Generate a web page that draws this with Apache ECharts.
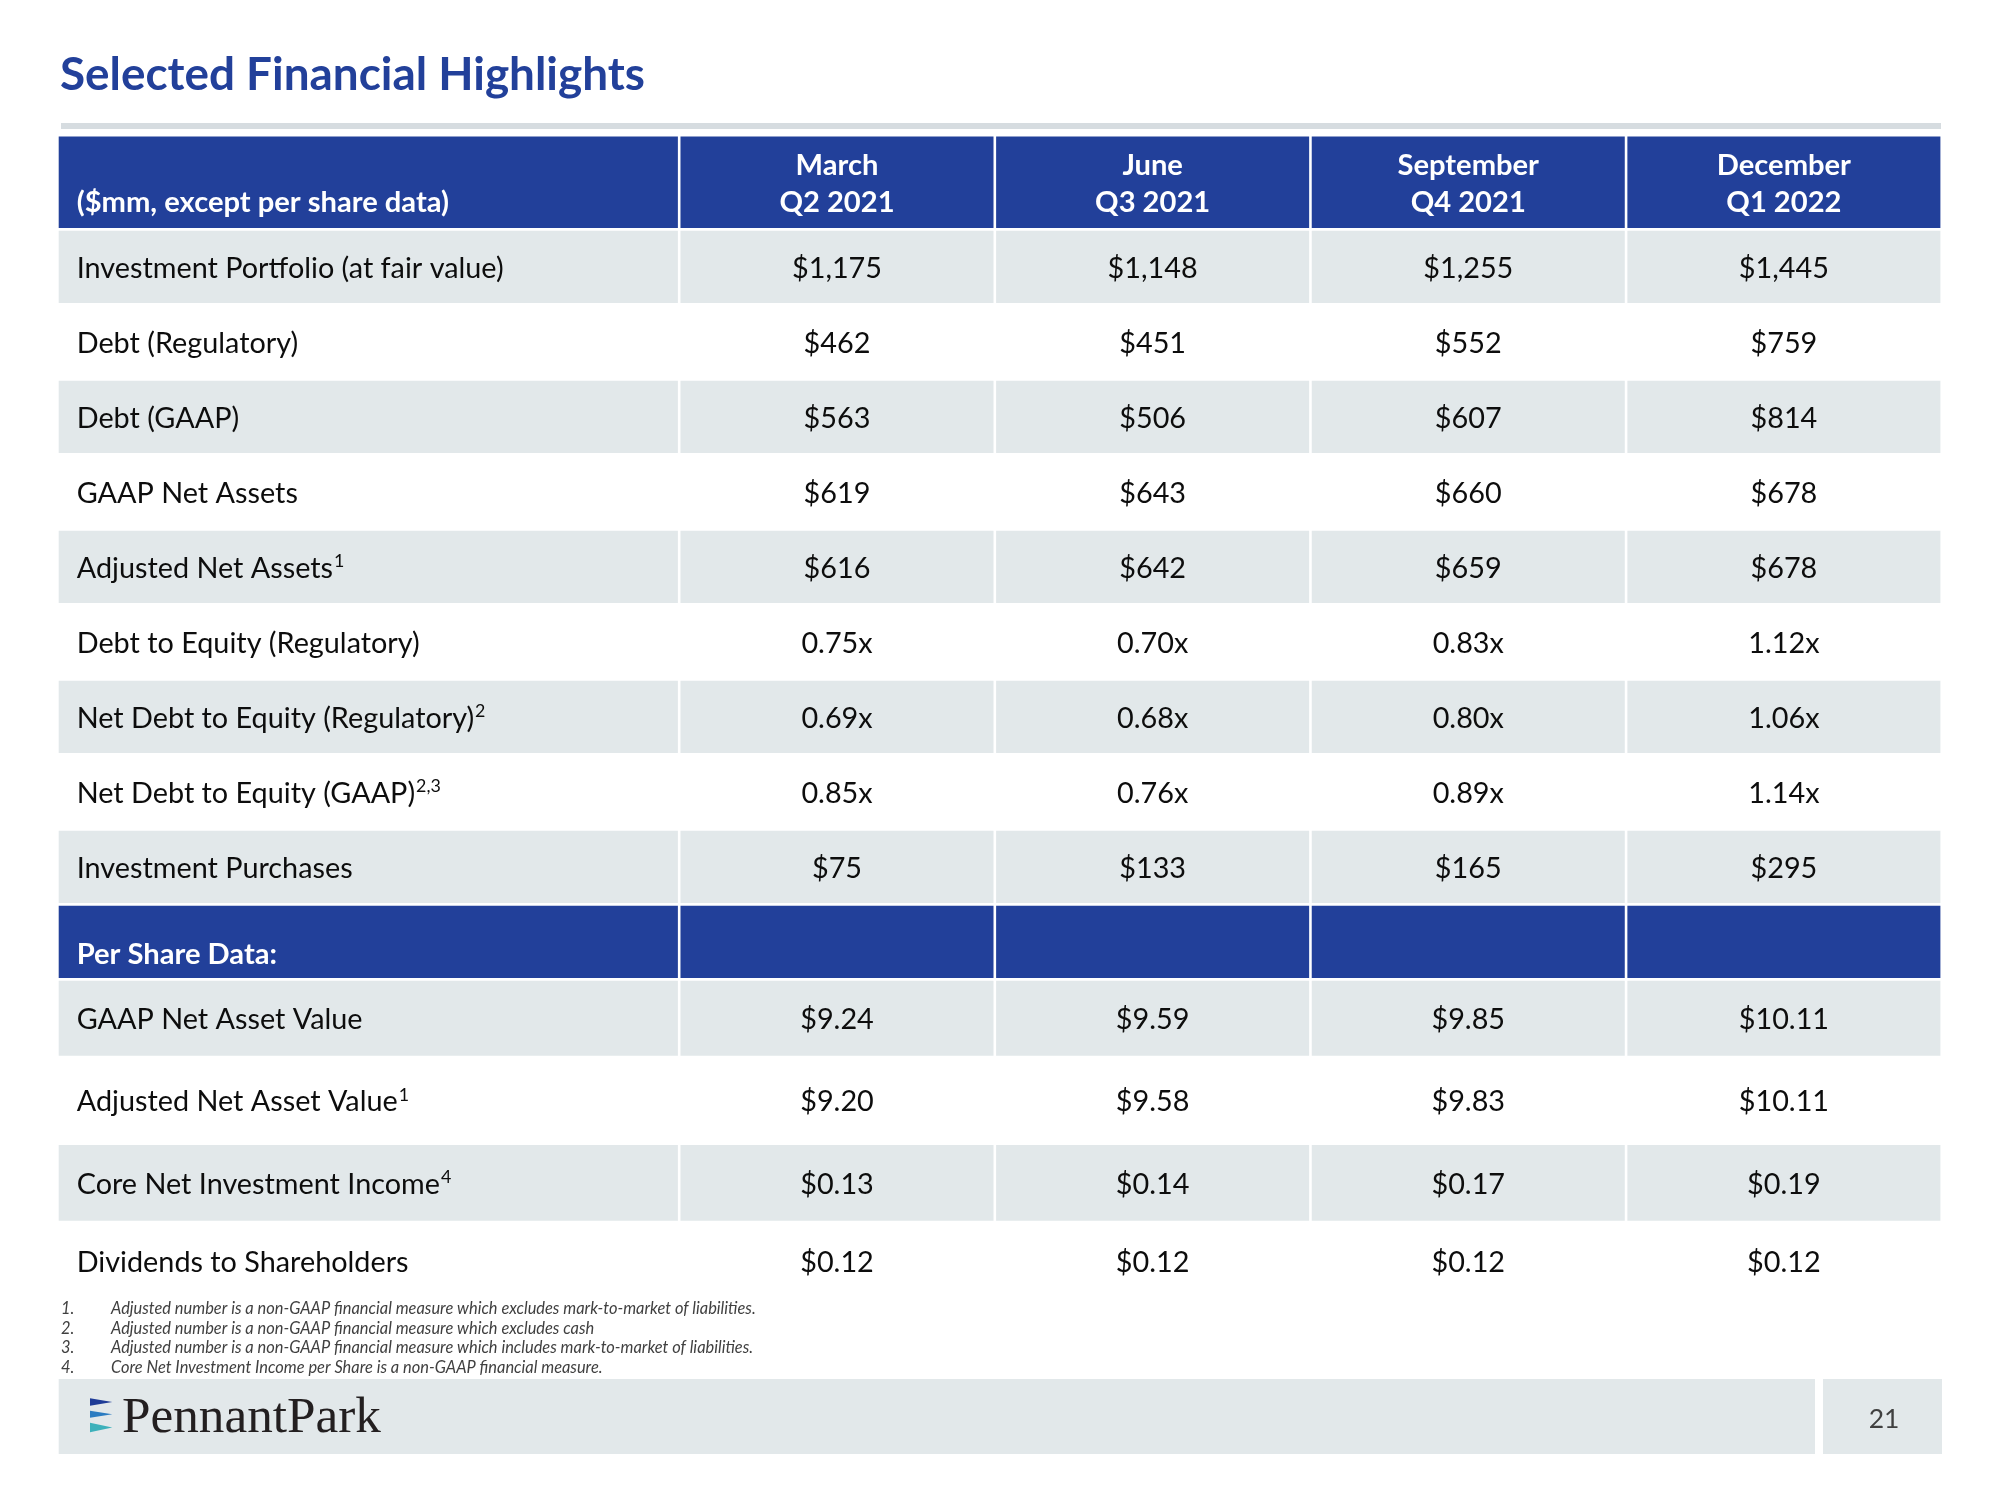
<!DOCTYPE html>
<html><head><meta charset="utf-8">
<script src="https://cdn.jsdelivr.net/npm/echarts@6/dist/echarts.min.js"></script>
<style>html,body{margin:0;padding:0;background:#fff}#main{width:2000px;height:1500px}</style>
</head><body><div id="main"></div>
<script>
// ---------------- DATA ----------------
const periods = ['March', 'June', 'September', 'December'];
const quarters = ['Q2 2021', 'Q3 2021', 'Q4 2021', 'Q1 2022'];
const unitsLabel = '($mm, except per share data)';
const portfolioLabels = ['Investment Portfolio (at fair value)', 'Debt (Regulatory)', 'Debt (GAAP)', 'GAAP Net Assets', 'Adjusted Net Assets', 'Debt to Equity (Regulatory)', 'Net Debt to Equity (Regulatory)', 'Net Debt to Equity (GAAP)', 'Investment Purchases'];
const portfolioNotes = ['', '', '', '', '1', '', '2', '2,3', ''];
const portfolioFormats = ['usd0', 'usd0', 'usd0', 'usd0', 'usd0', 'mult', 'mult', 'mult', 'usd0'];
const q2_2021 = [1175, 462, 563, 619, 616, 0.75, 0.69, 0.85, 75];
const q3_2021 = [1148, 451, 506, 643, 642, 0.70, 0.68, 0.76, 133];
const q4_2021 = [1255, 552, 607, 660, 659, 0.83, 0.80, 0.89, 165];
const q1_2022 = [1445, 759, 814, 678, 678, 1.12, 1.06, 1.14, 295];
const perShareTitle = 'Per Share Data:';
const perShareLabels = ['GAAP Net Asset Value', 'Adjusted Net Asset Value', 'Core Net Investment Income', 'Dividends to Shareholders'];
const perShareNotes = ['', '1', '4', ''];
const perShareFormats = ['usd2', 'usd2', 'usd2', 'usd2'];
const q2_2021_perShare = [9.24, 9.20, 0.13, 0.12];
const q3_2021_perShare = [9.59, 9.58, 0.14, 0.12];
const q4_2021_perShare = [9.85, 9.83, 0.17, 0.12];
const q1_2022_perShare = [10.11, 10.11, 0.19, 0.12];
const titleText = 'Selected Financial Highlights';
const footnotes = [
  'Adjusted number is a non-GAAP financial measure which excludes mark-to-market of liabilities.',
  'Adjusted number is a non-GAAP financial measure which excludes cash',
  'Adjusted number is a non-GAAP financial measure which includes mark-to-market of liabilities.',
  'Core Net Investment Income per Share is a non-GAAP financial measure.'
];
const companyName = 'PennantPark';
const pageNumber = '21';

// ---------------- LAYOUT / STYLE ----------------
const BLUE = '#22409A', GREY = '#E2E8EA', TEXT = '#0D0D0D';
const FONT = 'Lato';
const colUnits = [1.97, 1, 1, 1, 1];
const rowUnits = [1.255, 1, 1, 1, 1, 1, 1, 1, 1, 1, 1.0, 1.035, 1.155, 1.045, 1.04];
const ROW_PX = 75, GAP = 2.6, TEXT_DY = 1.5;
const GRID_LEFT = 58.7, GRID_TOP = 136.5, GRID_W = 1884.3;

const ctx = document.createElement('canvas').getContext('2d');
function fit(text, weight, style, family, target) {
  ctx.font = style + ' ' + weight + ' 100px ' + family;
  return 100 * target / ctx.measureText(text).width;
}
function measure(text, size, weight) {
  ctx.font = 'normal ' + weight + ' ' + size + 'px ' + FONT;
  return ctx.measureText(text).width;
}
const bodySize = fit(portfolioLabels[0], 'normal', 'normal', FONT, 427);
const headSize = fit(unitsLabel, 'bold', 'normal', FONT, 372.5);
const titleSize = fit(titleText, 'bold', 'normal', FONT, 585);
const noteSize = fit(footnotes[0], 'normal', 'italic', FONT, 645);
const logoSize = fit(companyName, 'normal', 'normal', '"Liberation Serif"', 259);
const supSize = bodySize * 0.62;

function fmt(v, kind) {
  if (kind === 'usd0') return '$' + v.toLocaleString('en-US', {maximumFractionDigits: 0});
  if (kind === 'mult') return v.toFixed(2) + 'x';
  return '$' + v.toFixed(2);
}

// Build table rows from data arrays
const portfolioCols = [q2_2021, q3_2021, q4_2021, q1_2022];
const perShareCols = [q2_2021_perShare, q3_2021_perShare, q4_2021_perShare, q1_2022_perShare];
const rows = [{kind: 'head'}];
portfolioLabels.forEach((l, i) => rows.push({kind: 'body', shade: i % 2 === 0, label: l, note: portfolioNotes[i],
  cells: portfolioCols.map(c => fmt(c[i], portfolioFormats[i]))}));
rows.push({kind: 'section', label: perShareTitle});
perShareLabels.forEach((l, i) => rows.push({kind: 'body', shade: i % 2 === 0, label: l, note: perShareNotes[i],
  cells: perShareCols.map(c => fmt(c[i], perShareFormats[i]))}));

const colStart = []; colUnits.reduce((a, u, i) => (colStart[i] = a, a + u), 0);
const rowStart = []; rowUnits.reduce((a, u, i) => (rowStart[i] = a, a + u), 0);
const colTotal = colUnits.reduce((a, b) => a + b, 0);
const rowTotal = rowUnits.reduce((a, b) => a + b, 0);

const cellData = [];
rows.forEach((r, ri) => colUnits.forEach((u, ci) => cellData.push([ci, ri])));

function txt(x, y, text, o) {
  return {type: 'text', x: x, y: y + TEXT_DY, silent: true, style: Object.assign({
    text: text, fill: TEXT, fontFamily: FONT, fontSize: bodySize, fontWeight: 'normal',
    align: 'left', textAlign: 'left', verticalAlign: 'middle', textVerticalAlign: 'middle'}, o || {})};
}

function renderItem(params, api) {
  const ci = api.value(0), ri = api.value(1);
  const row = rows[ri];
  const p0 = api.coord([colStart[ci], rowStart[ri]]);
  const p1 = api.coord([colStart[ci] + colUnits[ci], rowStart[ri] + rowUnits[ri]]);
  const x = p0[0], y = p0[1], w = p1[0] - p0[0] - GAP, h = p1[1] - p0[1] - GAP;
  let fill = '#FFFFFF';
  if (row.kind === 'head' || row.kind === 'section') fill = BLUE;
  else if (row.shade) fill = GREY;
  const children = [{type: 'rect', shape: {x: x, y: y, width: w, height: h}, style: {fill: fill}, silent: true}];
  const white = {fill: '#FFFFFF', fontWeight: 'bold', fontSize: headSize};
  if (row.kind === 'head') {
    if (ci === 0) children.push(txt(x + 18, y + 64.5, unitsLabel, white));
    else {
      const c = Object.assign({align: 'center', textAlign: 'center'}, white);
      children.push(txt(x + w / 2, y + 27.5, periods[ci - 1], c));
      children.push(txt(x + w / 2, y + 64.5, quarters[ci - 1], c));
    }
  } else if (row.kind === 'section') {
    if (ci === 0) children.push(txt(x + 18, y + h - 25, row.label, white));
  } else {
    const cy = y + h / 2;
    if (ci === 0) {
      children.push(txt(x + 18, cy, row.label));
      if (row.note) {
        const lw = measure(row.label, bodySize, 'normal');
        children.push(txt(x + 18 + lw + 1, cy - bodySize * 0.24, row.note, {fontSize: supSize}));
      }
    } else {
      children.push(txt(x + w / 2, cy, row.cells[ci - 1], {align: 'center', textAlign: 'center'}));
    }
  }
  return {type: 'group', children: children};
}

const graphics = [
  {type: 'text', x: 60, y: 75, silent: true, style: {text: titleText, fill: BLUE, fontFamily: FONT, fontWeight: 'bold', fontSize: titleSize, align: 'left', verticalAlign: 'middle', textAlign: 'left', textVerticalAlign: 'middle'}},
  {type: 'rect', shape: {x: 61, y: 123, width: 1880, height: 6}, style: {fill: '#D6DCE0'}, silent: true},
  {type: 'rect', shape: {x: 58.7, y: 1379, width: 1756.3, height: 75}, style: {fill: GREY}, silent: true},
  {type: 'rect', shape: {x: 1823, y: 1379, width: 119, height: 75}, style: {fill: GREY}, silent: true},
  {type: 'text', x: 1884, y: 1419, silent: true, style: {text: pageNumber, fill: '#404040', fontFamily: FONT, fontSize: 26.5, align: 'center', verticalAlign: 'middle', textAlign: 'center', textVerticalAlign: 'middle'}},
  {type: 'polygon', shape: {points: [[90, 1398.3], [112.3, 1402], [90, 1405.7]]}, style: {fill: '#1F3C97'}, silent: true},
  {type: 'polygon', shape: {points: [[90, 1410.7], [112.3, 1414.2], [90, 1417.7]]}, style: {fill: '#2B7CC1'}, silent: true},
  {type: 'polygon', shape: {points: [[90, 1422.7], [112.3, 1427.5], [90, 1432.3]]}, style: {fill: '#3DB1BB'}, silent: true},
  {type: 'text', x: 122, y: 1444, silent: true, style: {text: companyName, fill: '#231F20', fontFamily: '"Liberation Serif"', fontSize: logoSize, align: 'left', verticalAlign: 'bottom', textAlign: 'left', textVerticalAlign: 'bottom'}}
];
footnotes.forEach((f, i) => {
  const y = 1308.5 + i * 19.8;
  graphics.push({type: 'text', x: 61, y: y, silent: true, style: {text: (i + 1) + '.', fill: '#404040', fontFamily: FONT, fontStyle: 'italic', fontSize: noteSize, align: 'left', verticalAlign: 'middle', textAlign: 'left', textVerticalAlign: 'middle'}});
  graphics.push({type: 'text', x: 111, y: y, silent: true, style: {text: f, fill: '#404040', fontFamily: FONT, fontStyle: 'italic', fontSize: noteSize, align: 'left', verticalAlign: 'middle', textAlign: 'left', textVerticalAlign: 'middle'}});
});

const chart = echarts.init(document.getElementById('main'), null, {renderer: 'canvas'});
chart.setOption({
  animation: false,
  backgroundColor: '#FFFFFF',
  grid: {left: GRID_LEFT, top: GRID_TOP, width: GRID_W, height: rowTotal * ROW_PX},
  xAxis: {type: 'value', min: 0, max: colTotal, show: false},
  yAxis: {type: 'value', min: 0, max: rowTotal, inverse: true, show: false},
  graphic: graphics,
  series: [{type: 'custom', coordinateSystem: 'cartesian2d', renderItem: renderItem, data: cellData, clip: false, silent: true}]
});
</script></body></html>
